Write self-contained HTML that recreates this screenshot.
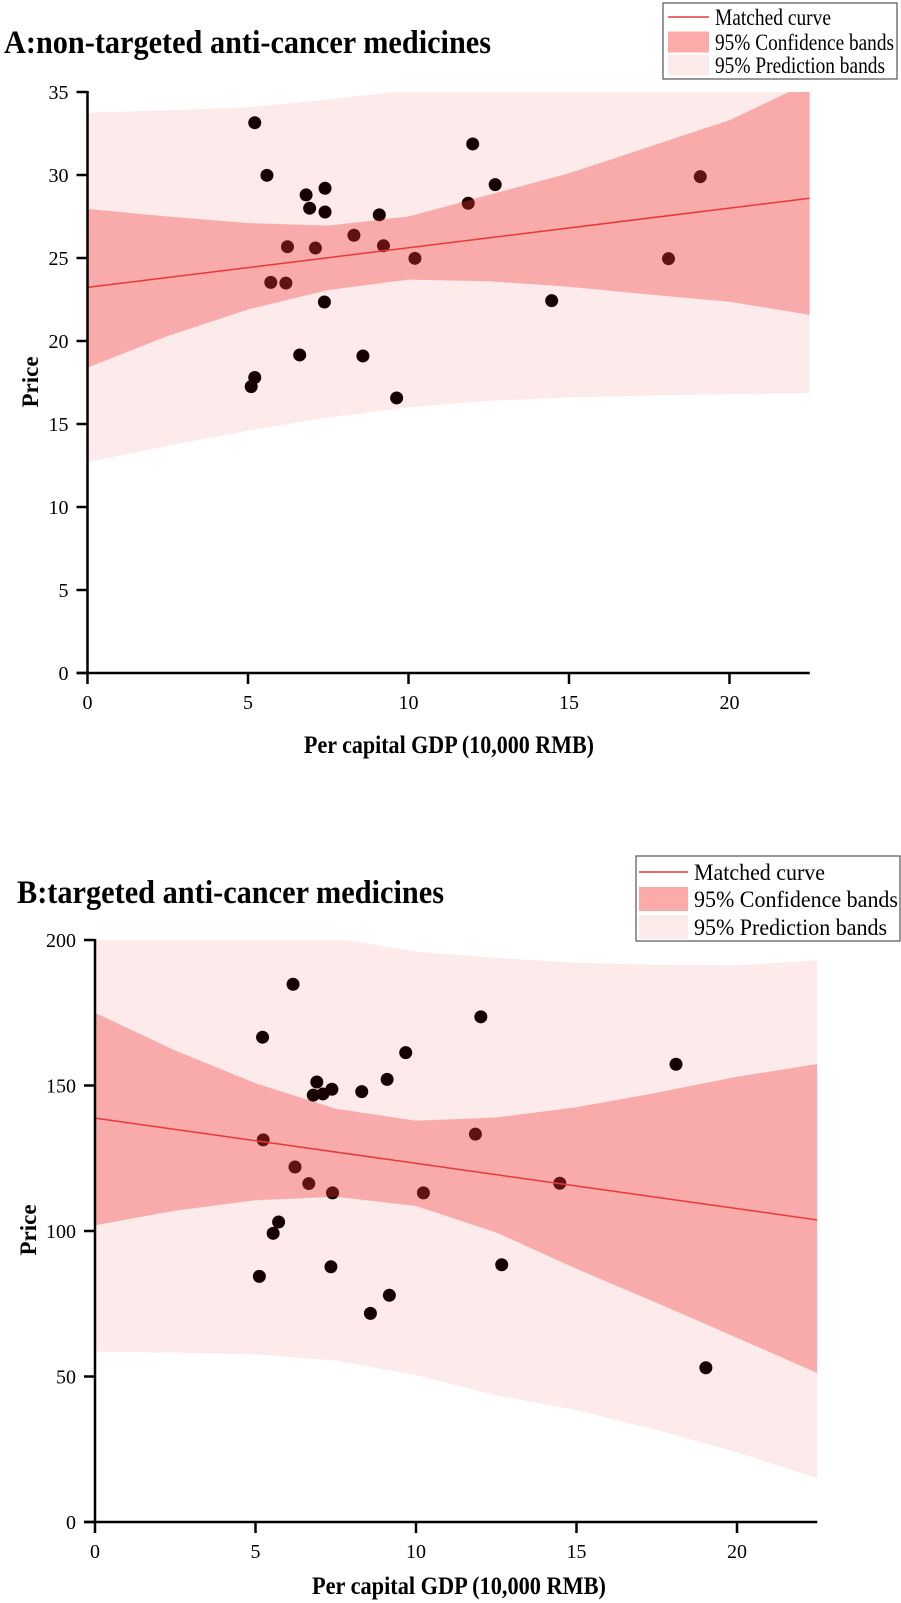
<!DOCTYPE html>
<html><head><meta charset="utf-8">
<style>
html,body{margin:0;padding:0;background:#fff;}
svg{display:block;font-family:"Liberation Serif",serif;}
</style></head>
<body>
<svg id="chart" width="901" height="1603" viewBox="0 0 901 1603" xmlns="http://www.w3.org/2000/svg">
</svg>
<script>
// ---------- Panel A data ----------
const aGdp = [5.21,5.59,6.81,6.92,7.40,7.40,12.0,12.7,19.09,11.86,9.09,8.30,6.23,7.10,9.22,10.2,18.1,5.71,6.18,7.38,14.46,6.61,8.58,5.21,5.10,9.63];
const aPrice = [33.15,29.98,28.8,28.0,29.2,27.77,31.87,29.42,29.9,28.3,27.6,26.37,25.68,25.6,25.74,24.98,24.96,23.53,23.49,22.35,22.43,19.16,19.1,17.8,17.25,16.57];
const aBandX = [0,2.5,5,7.5,10,12.5,15,17.5,20,22.5];
const aCiUpper = [27.95,27.5,27.1,26.95,27.5,28.8,30.1,31.7,33.3,35.6];
const aCiLower = [18.4,20.3,21.9,23.07,23.7,23.6,23.27,22.8,22.37,21.57];
const aPiUpper = [33.75,33.9,34.07,34.55,35.1,35.4,35.6,35.8,35.9,36.0];
const aPiLower = [12.7,13.7,14.6,15.4,16.0,16.4,16.6,16.7,16.8,16.85];
const aFitX = [0,22.5];
const aFitY = [23.23,28.6];
const aYTicks = [0,5,10,15,20,25,30,35];
const aXTicks = [0,5,10,15,20];

// ---------- Panel B data ----------
const bGdp = [6.17,5.22,12.02,9.68,18.1,9.1,6.91,6.8,7.1,7.38,8.31,5.24,11.85,6.23,6.66,7.4,10.23,14.48,5.72,5.55,5.12,7.35,9.17,8.58,12.67,19.03];
const bPrice = [184.8,166.6,173.6,161.3,157.3,152.1,151.2,146.7,147.1,148.7,147.9,131.3,133.3,122,116.3,113.1,113.1,116.4,103.1,99.2,84.4,87.7,77.9,71.7,88.4,53.0];
const bBandX = [0,2.5,5,7.5,10,12.5,15,17.5,20,22.5];
const bCiUpper = [175,162,150.8,142,137.9,139,142.5,147.5,153,157.4];
const bCiLower = [102,107,110.6,111.8,108.6,99.5,87,75.3,63.3,51.2];
const bPiUpper = [206,204.5,203,200.5,196,193.8,192.2,191.5,191.3,193];
const bPiLower = [58.5,58.2,57.6,55.5,50.5,43.5,38.5,31.6,24,15];
const bFitX = [0,22.5];
const bFitY = [138.8,103.8];
const bYTicks = [0,50,100,150,200];
const bXTicks = [0,5,10,15,20];

const NS = "http://www.w3.org/2000/svg";
const svg = document.getElementById("chart");
function mk(tag, attrs, parent){
  const e = document.createElementNS(NS, tag);
  for (const k in attrs) e.setAttribute(k, attrs[k]);
  (parent||svg).appendChild(e);
  return e;
}

function panel(cfg){
  const g = mk("g", {});
  
  
  const sx = v => cfg.x0 + v*cfg.kx;
  const sy = v => cfg.y0 - v*cfg.ky;
  const clipId = cfg.name + "-clip";
  const defs = mk("defs", {}, g);
  const cp = mk("clipPath", {id: clipId}, defs);
  mk("rect", {x: cfg.x0, y: sy(cfg.yMax), width: sx(22.5)-cfg.x0, height: cfg.y0 - sy(cfg.yMax)}, cp);
  const plot = mk("g", {"clip-path": "url(#"+clipId+")"}, g);
  function band(up, lo){
    let d = "";
    cfg.bandX.forEach((x,i)=>{ d += (i?"L":"M") + sx(x).toFixed(1) + "," + sy(up[i]).toFixed(1); });
    for (let i=cfg.bandX.length-1;i>=0;i--) d += "L" + sx(cfg.bandX[i]).toFixed(1) + "," + sy(lo[i]).toFixed(1);
    return d + "Z";
  }
  const pi = mk("path", {d: band(cfg.piU, cfg.piL), fill: "#fdeaea"}, plot);
  
  
  cfg.px.forEach((x,i)=>{
    const c = mk("circle", {cx: sx(x), cy: sy(cfg.py[i]), r: 6.5, fill: "#160000"}, plot);
    
    
  });
  const ci = mk("path", {d: band(cfg.ciU, cfg.ciL), fill: "rgba(242,51,51,0.35)"}, plot);
  
  
  const fit = mk("line", {x1: sx(cfg.fitX[0]), y1: sy(cfg.fitY[0]), x2: sx(cfg.fitX[1]), y2: sy(cfg.fitY[1]), stroke: "#e8393a", "stroke-width": 1.5}, plot);
  
  
  const ya = mk("line", {x1: cfg.x0, y1: sy(cfg.yMax)-1, x2: cfg.x0, y2: cfg.y0+1, stroke: "#000", "stroke-width": 2.5}, g);
  
  
  const xa = mk("line", {x1: cfg.x0-11, y1: cfg.y0, x2: sx(22.5), y2: cfg.y0, stroke: "#000", "stroke-width": 2.5}, g);
  
  
  cfg.yTicks.forEach(v=>{
    mk("line", {x1: cfg.x0-11, y1: sy(v), x2: cfg.x0, y2: sy(v), stroke: "#000", "stroke-width": 2.5}, g);
    const t = mk("text", {x: cfg.x0-19, y: sy(v)+7, "text-anchor": "end", "font-size": 20}, g);
    
    
    t.textContent = v;
  });
  cfg.xTicks.forEach(v=>{
    mk("line", {x1: sx(v), y1: cfg.y0, x2: sx(v), y2: cfg.y0+11, stroke: "#000", "stroke-width": 2.5}, g);
    const t = mk("text", {x: sx(v), y: cfg.y0+36, "text-anchor": "middle", "font-size": 20}, g);
    
    
    t.textContent = v;
  });
  const tt = mk("text", {x: cfg.titleX, y: cfg.titleY, "font-size": 33, "font-weight": "bold", textLength: cfg.titleW, lengthAdjust: "spacingAndGlyphs"}, g);
  
  
  tt.textContent = cfg.title;
  const xt = mk("text", {x: cfg.xtX, y: cfg.xtY, "font-size": 25, "font-weight": "bold", textLength: cfg.xtW, lengthAdjust: "spacingAndGlyphs"}, g);
  
  
  xt.textContent = "Per capital GDP (10,000 RMB)";
  const yt = mk("text", {x: 0, y: 0, "font-size": 23, "font-weight": "bold", "text-anchor": "middle", transform: "translate(" + (cfg.ytX+8) + "," + cfg.ytY + ") rotate(-90)"}, g);
  
  
  yt.textContent = "Price";
  const L = cfg.leg;
  const lg = mk("g", {}, g);
  
  
  mk("rect", {x: L.x, y: L.y, width: L.w, height: L.h, fill: "#fff", stroke: "#555", "stroke-width": 1.2}, lg);
  mk("line", {x1: L.sx, y1: L.r1, x2: L.sx+L.sw, y2: L.r1, stroke: "#e8393a", "stroke-width": 1.5}, lg);
  mk("rect", {x: L.sx, y: L.r2-L.rh/2, width: L.sw, height: L.rh, fill: "#fcaaaa"}, lg);
  mk("rect", {x: L.sx, y: L.r3-L.rh/2, width: L.sw, height: L.rh, fill: "#fdeaea"}, lg);
  const labels = ["Matched curve","95% Confidence bands","95% Prediction bands"];
  const rows = [L.r1,L.r2,L.r3];
  labels.forEach((s,i)=>{
    const t = mk("text", {x: L.tx, y: rows[i]+8, "font-size": 23, textLength: L.tw[i], lengthAdjust: "spacingAndGlyphs"}, lg);
    
    
    t.textContent = s;
  });
}

panel({name: "panel-a", x0: 87.5, y0: 673, kx: 32.1, ky: 16.6, yMax: 35,
  px: aGdp, py: aPrice, bandX: aBandX, ciU: aCiUpper, ciL: aCiLower, piU: aPiUpper, piL: aPiLower,
  fitX: aFitX, fitY: aFitY, yTicks: aYTicks, xTicks: aXTicks,
  title: "A:non-targeted anti-cancer medicines", titleX: 4, titleY: 53, titleW: 487,
  xtX: 304, xtY: 753, xtW: 290, ytX: 30, ytY: 382,
  leg: {x: 663, y: 3, w: 234, h: 76, sx: 668, sw: 41, tx: 715, r1: 17, r2: 42, r3: 65, rh: 21, tw: [116,179,170]}
});
panel({name: "panel-b", x0: 95, y0: 1522, kx: 32.1, ky: 2.91, yMax: 200,
  px: bGdp, py: bPrice, bandX: bBandX, ciU: bCiUpper, ciL: bCiLower, piU: bPiUpper, piL: bPiLower,
  fitX: bFitX, fitY: bFitY, yTicks: bYTicks, xTicks: bXTicks,
  title: "B:targeted anti-cancer medicines", titleX: 17, titleY: 903, titleW: 427,
  xtX: 312, xtY: 1594, xtW: 294, ytX: 28, ytY: 1230,
  leg: {x: 636, y: 856, w: 264, h: 85, sx: 639, sw: 49, tx: 694, r1: 872, r2: 899, r3: 927, rh: 24, tw: [131,204,193]}
});
</script>
</body></html>
